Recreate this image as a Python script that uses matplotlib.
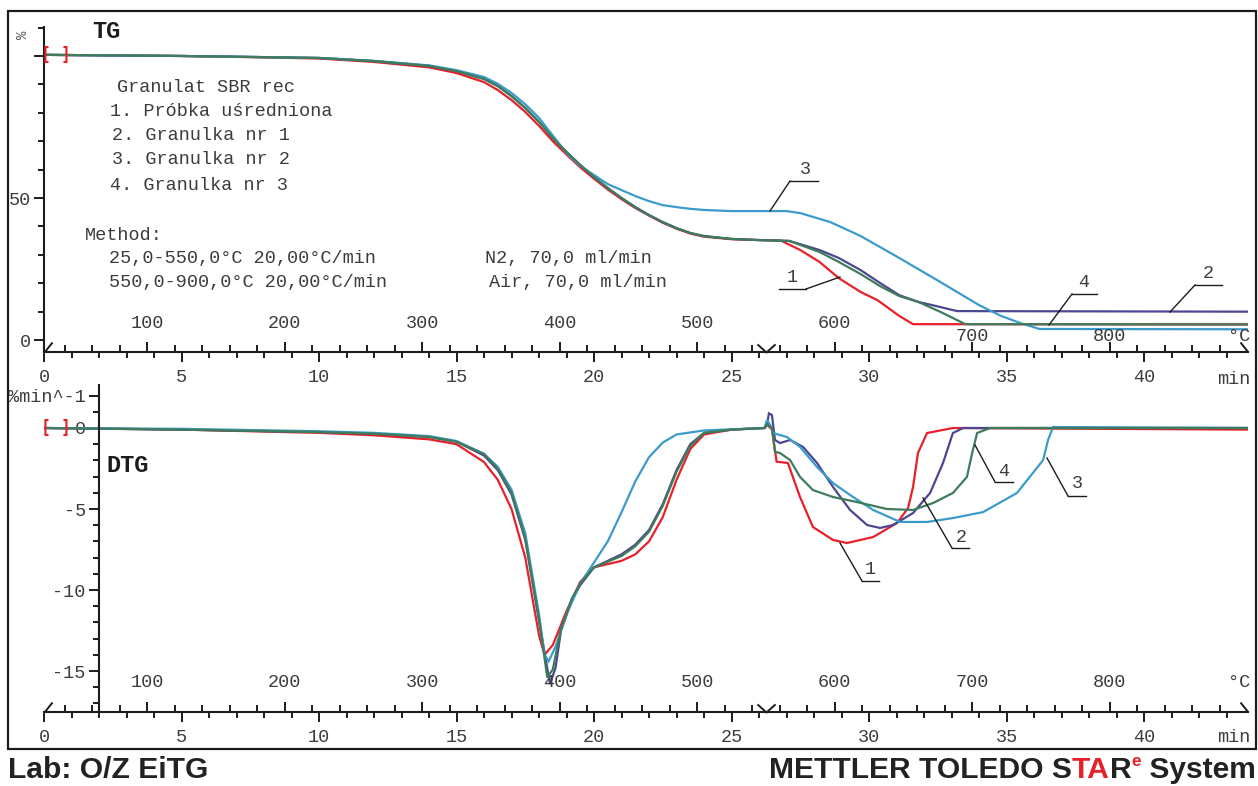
import matplotlib
matplotlib.use('Agg')
import matplotlib.pyplot as plt
import numpy as np
from matplotlib.path import Path
from matplotlib.ticker import FixedLocator, MultipleLocator, FixedFormatter, FuncFormatter
from matplotlib.lines import Line2D
from matplotlib.patches import Rectangle

plt.rcParams['font.family'] = ['Liberation Mono', 'DejaVu Sans Mono']

W, H = 1258, 786

# ---------------- heating programme ----------------
T_START = 25.0      # degC at t = 0
RATE = 20.0         # degC / min
SEG_T = 550         # segment change N2 -> air
T_MAX_MIN = 43.78


def t2T(t):
    return T_START + RATE * np.asarray(t, dtype=float)


def T2t(T):
    return (np.asarray(T, dtype=float) - T_START) / RATE


# ---------------- data ----------------
colors = {'1': '#e62129', '2': '#4b4791', '3': '#3b9bca', '4': '#3e7c5c'}

# TG (%), time in min
tg1_t = [0, 5, 8, 10, 12, 14, 15, 16, 16.5, 17, 17.5, 18, 18.5, 19, 19.5, 20, 20.5, 21, 21.5, 22,
         22.5, 23, 23.5, 24, 25, 26, 26.8, 27.5, 28.2, 28.9, 29.7, 30.3, 31.1, 31.6, 43.75]
tg1_v = [100.4, 100.0, 99.5, 99.1, 97.9, 96.0, 94.0, 90.8, 88.0, 84.5, 80.3, 75.4, 70.0, 65.3, 60.8,
         56.8, 53.0, 49.6, 46.5, 43.8, 41.3, 39.2, 37.5, 36.4, 35.5, 35.2, 35.0, 31.7, 27.5, 21.8,
         16.9, 14.1, 8.5, 5.6, 5.5]

tg2_t = [0, 5, 8, 10, 12, 14, 15, 16, 16.5, 17, 17.5, 18, 18.5, 19, 19.5, 20, 20.5, 21, 21.5, 22,
         22.5, 23, 23.5, 24, 25, 26, 27.1, 28.2, 28.9, 29.7, 30.4, 31.1, 31.8, 32.3, 33.2, 43.75]
tg2_v = [100.4, 100.0, 99.6, 99.3, 98.2, 96.5, 94.7, 91.9, 89.4, 85.9, 81.7, 76.8, 71.1, 66.2, 61.6,
         57.4, 53.5, 50.0, 46.8, 44.0, 41.5, 39.4, 37.7, 36.6, 35.6, 35.2, 34.9, 31.7, 28.9, 24.6,
         20.1, 15.8, 13.4, 12.3, 10.2, 10.0]

tg3_t = [0, 5, 8, 10, 12, 14, 15, 16, 16.5, 17, 17.5, 18, 18.5, 19, 19.5, 20, 20.5, 21, 21.5, 22,
         22.5, 23, 23.5, 24, 25, 27, 27.5, 28.6, 29.7, 31.1, 32.6, 34, 34.8, 35.5, 36.2, 43.75]
tg3_v = [100.4, 100.0, 99.6, 99.3, 98.3, 96.7, 95.0, 92.6, 90.2, 87.0, 83.0, 78.2, 72.0, 65.8, 61.3,
         58.1, 54.9, 52.8, 50.7, 48.9, 47.5, 46.8, 46.2, 45.8, 45.4, 45.4, 44.7, 41.5, 36.6, 28.9,
         20.4, 12.3, 8.5, 6.0, 3.9, 3.8]

tg4_t = [0, 5, 8, 10, 12, 14, 15, 16, 16.5, 17, 17.5, 18, 18.5, 19, 19.5, 20, 20.5, 21, 21.5, 22,
         22.5, 23, 23.5, 24, 25, 26, 27.1, 28.2, 28.9, 29.7, 30.4, 31.1, 31.8, 32.6, 33.5, 43.75]
tg4_v = [100.4, 100.0, 99.6, 99.3, 98.2, 96.5, 94.7, 91.9, 89.4, 85.9, 81.7, 76.8, 71.1, 66.2, 61.6,
         57.4, 53.5, 50.0, 46.8, 44.0, 41.5, 39.4, 37.7, 36.6, 35.6, 35.2, 34.9, 31.0, 27.5, 23.2,
         19.0, 15.5, 13.4, 9.9, 5.6, 5.5]

# DTG (%/min)
dtg1_t = [0, 5, 10, 12, 14, 15, 16, 16.5, 17, 17.5, 18, 18.2, 18.5, 19, 19.5, 20, 21, 21.5, 22, 22.5,
          23, 23.5, 24, 25, 26.2, 26.3, 26.47, 26.64, 27.05, 27.49, 27.96, 28.69, 29.2, 30.15, 31.02,
          31.42, 31.6, 31.78, 32.11, 33.05, 43.75]
dtg1_v = [0, -0.1, -0.3, -0.45, -0.7, -1.0, -2.1, -3.2, -5.0, -8.0, -12.8, -14.0, -13.4, -11.3, -9.5,
          -8.6, -8.2, -7.8, -7.0, -5.5, -3.2, -1.3, -0.4, -0.1, 0, 0.2, -0.1, -2.08, -2.16, -4.26,
          -6.11, -6.91, -7.1, -6.73, -5.86, -4.94, -3.64, -1.54, -0.31, 0, -0.1]

dtg2_t = [0, 5, 10, 12, 14, 15, 16, 16.5, 17, 17.5, 18, 18.4, 18.6, 18.8, 19.2, 19.5, 20, 21, 21.5,
          22, 22.5, 23, 23.5, 24, 25, 26.2, 26.29, 26.36, 26.47, 26.58, 26.76, 27.13, 27.6, 28.11,
          28.69, 29.31, 29.93, 30.4, 30.87, 31.6, 32.22, 32.69, 33.05, 33.42, 43.75]
dtg2_v = [0, -0.1, -0.25, -0.35, -0.55, -0.85, -1.7, -2.6, -4.1, -6.9, -11.9, -15.8, -14.8, -12.5,
          -10.6, -9.7, -8.6, -7.8, -7.2, -6.3, -4.7, -2.6, -1.0, -0.3, -0.1, 0, 0.2, 0.9, 0.8, -0.74,
          -0.93, -0.74, -1.17, -2.16, -3.64, -5.06, -5.99, -6.17, -5.99, -5.25, -4.01, -2.16, -0.31,
          0, 0]

dtg3_t = [0, 5, 10, 12, 14, 15, 16, 16.5, 17, 17.5, 18, 18.2, 18.35, 18.6, 19, 19.5, 20, 20.5, 21,
          21.5, 22, 22.5, 23, 24, 26.2, 26.29, 26.4, 26.51, 27.02, 27.49, 28.11, 28.69, 29.42, 30.15,
          31.13, 32.11, 33.05, 34.15, 35.38, 36.33, 36.51, 36.69, 43.75]
dtg3_v = [0, -0.05, -0.2, -0.3, -0.5, -0.8, -1.6, -2.4, -3.8, -6.5, -11.5, -14.0, -14.4, -13.5, -11.5,
          -9.6, -8.3, -7.0, -5.2, -3.3, -1.8, -0.9, -0.4, -0.15, 0, 0.5, 0.2, -0.31, -0.56, -1.17,
          -2.41, -3.4, -4.26, -5.06, -5.8, -5.8, -5.56, -5.19, -4.01, -1.98, -0.74, 0.06, 0]

dtg4_t = [0, 5, 10, 12, 14, 15, 16, 16.5, 17, 17.5, 18, 18.3, 18.5, 18.8, 19.2, 19.5, 20, 21, 21.5,
          22, 22.5, 23, 23.5, 24, 25, 26.2, 26.29, 26.47, 26.58, 26.76, 27.13, 27.49, 27.96, 28.69,
          29.56, 30.65, 31.6, 32.33, 33.05, 33.56, 33.75, 33.93, 34.4, 43.75]
dtg4_v = [0, -0.1, -0.25, -0.35, -0.55, -0.85, -1.6, -2.5, -4.0, -6.8, -11.8, -15.4, -14.9, -12.4,
          -10.5, -9.6, -8.6, -7.9, -7.3, -6.4, -4.8, -2.7, -1.1, -0.3, -0.1, 0, 0.25, 0, -1.48, -1.54,
          -1.98, -3.02, -3.83, -4.26, -4.57, -5.0, -5.06, -4.63, -4.01, -3.02, -1.54, -0.31, 0, 0]

tg_series = {'1': (tg1_t, tg1_v), '2': (tg2_t, tg2_v), '3': (tg3_t, tg3_v), '4': (tg4_t, tg4_v)}
dtg_series = {'1': (dtg1_t, dtg1_v), '2': (dtg2_t, dtg2_v), '3': (dtg3_t, dtg3_v), '4': (dtg4_t, dtg4_v)}
draw_order = ['1', '2', '3', '4']

legend_title = 'Granulat SBR rec'
legend_lines = ['1. Próbka uśredniona', '2. Granulka nr 1', '3. Granulka nr 2', '4. Granulka nr 3']
method_lines = ['Method:', '25,0-550,0°C 20,00°C/min', '550,0-900,0°C 20,00°C/min']
gas_lines = ['N2, 70,0 ml/min', 'Air, 70,0 ml/min']

time_major = list(range(0, 45, 5))
temp_major = list(range(100, 900, 100))
temp_minor = [T for T in range(40, 900, 20) if T % 100]

# ---------------- figure ----------------
fig = plt.figure(figsize=(W / 100, H / 100), dpi=100)
fig.patch.set_facecolor('white')

TXT = '#3c3c3c'
AX = '#1c1c1c'
FS = 13.3


def fx(x):
    return x / W


def fy(y):
    return 1 - y / H


def rect(x0, y0, x1, y1):
    return [x0 / W, 1 - y1 / H, (x1 - x0) / W, (y1 - y0) / H]


ax1 = fig.add_axes(rect(44, 27, 1248, 352))
ax1.set_xlim(0, T_MAX_MIN)
ax1.set_ylim(-4.2, 110.2)
ax2 = fig.add_axes(rect(44, 385, 1248, 712))
ax2.set_xlim(0, T_MAX_MIN)
ax2.set_ylim(-17.53, 2.654)

start_mark = Path([(0, 0), (0.8, 1)], [Path.MOVETO, Path.LINETO])
end_mark = Path([(-0.8, 1), (0, 0)], [Path.MOVETO, Path.LINETO])
v_mark = Path([(-1, 0.9), (0, 0), (1, 0.9)], [Path.MOVETO, Path.LINETO, Path.LINETO])

for ax in (ax1, ax2):
    ax.patch.set_visible(False)
    for s in ('top', 'right'):
        ax.spines[s].set_visible(False)
    for s in ('left', 'bottom'):
        ax.spines[s].set_linewidth(1.5)
        ax.spines[s].set_color(AX)
    ax.xaxis.set_major_locator(FixedLocator(time_major))
    ax.xaxis.set_major_formatter(FuncFormatter(lambda v, p: f'{v:g}'))
    ax.xaxis.set_minor_locator(MultipleLocator(1))
    ax.tick_params(axis='x', which='major', direction='out', length=7.5, width=1.4, color=AX,
                   labelsize=FS, labelcolor=TXT, pad=5)
    ax.tick_params(axis='x', which='minor', direction='out', length=4.3, width=1.4, color=AX)
    ax.tick_params(axis='y', which='major', direction='out', length=7.5, width=1.4, color=AX,
                   labelsize=FS, labelcolor=TXT, pad=2)
    ax.tick_params(axis='y', which='minor', direction='out', length=4.5, width=1.4, color=AX)

    sec = ax.secondary_xaxis(0, functions=(t2T, T2t))
    for s in sec.spines.values():
        s.set_visible(False)
    sec.xaxis.set_major_locator(FixedLocator(temp_major))
    sec.xaxis.set_minor_locator(FixedLocator(temp_minor))
    sec.tick_params(which='both', direction='in', labelbottom=False, width=1.4, color=AX)
    sec.tick_params(which='major', length=7.2)
    sec.tick_params(which='minor', length=5.0)

    y0 = ax.get_ylim()[0]
    ax.plot([0], [y0], marker=start_mark, ms=14.4, mew=1.4, mec=AX, mfc='none', ls='none', clip_on=False)
    ax.plot([T_MAX_MIN], [y0], marker=end_mark, ms=14.4, mew=1.4, mec=AX, mfc='none', ls='none', clip_on=False)
    ax.plot([T2t(SEG_T)], [y0], marker=v_mark, ms=13, mew=1.4, mec=AX, mfc='none', ls='none', clip_on=False)

# y axes
ax1.yaxis.set_major_locator(FixedLocator([0, 50, 100]))
ax1.yaxis.set_major_formatter(FixedFormatter(['0', '50', '']))
ax1.yaxis.set_minor_locator(FixedLocator([10, 20, 30, 40, 60, 70, 80, 90, 110]))

ax2.spines['left'].set_position(('data', 2))
ax2.yaxis.set_major_locator(FixedLocator([-15, -10, -5, 0, 2]))
ax2.yaxis.set_major_formatter(FixedFormatter(['-15', '-10', '-5', '0', '%min^-1']))
ax2.yaxis.set_minor_locator(FixedLocator([v for v in range(-17, 2) if v not in (-15, -10, -5, 0)]))

# curves
for key in draw_order:
    t, v = tg_series[key]
    ax1.plot(t, v, color=colors[key], lw=1.6, solid_joinstyle='miter')
    t, v = dtg_series[key]
    ax2.plot(t, v, color=colors[key], lw=1.6, solid_joinstyle='miter')

# red start brackets
for ax, yv in ((ax1, 100.4), (ax2, 0.0)):
    ax.text(0.07, yv, '[', color=colors['1'], fontsize=12, fontweight='bold', ha='center', va='center',
            family='DejaVu Sans Mono')
    ax.text(0.8, yv, ']', color=colors['1'], fontsize=12, fontweight='bold', ha='center', va='center',
            family='DejaVu Sans Mono')

# temperature labels
for T in temp_major:
    ytop = 6.0 if T < 700 else 1.4
    ax1.text(T2t(T), ytop, str(T), ha='center', va='center', fontsize=FS, color=TXT)
    ax2.text(T2t(T), -15.7, str(T), ha='center', va='center', fontsize=FS, color=TXT)
ax1.text(T_MAX_MIN + 0.08, 1.4, '°C', ha='right', va='center', fontsize=FS, color=TXT)
ax2.text(T_MAX_MIN + 0.08, -15.7, '°C', ha='right', va='center', fontsize=FS, color=TXT)

fig.text(fx(1250), fy(379), 'min', ha='right', va='center', fontsize=FS, color=TXT)
fig.text(fx(1250), fy(738), 'min', ha='right', va='center', fontsize=FS, color=TXT)
fig.text(fx(23), fy(35), '%', rotation=90, ha='center', va='center', fontsize=10, color='#555555')

# titles
fig.text(fx(92), fy(32), 'TG', ha='left', va='center', fontsize=17, fontweight='bold', color=AX)
fig.text(fx(107), fy(466), 'DTG', ha='left', va='center', fontsize=17, fontweight='bold', color=AX)

# legend-like notes
fig.text(fx(117), fy(87), legend_title, ha='left', va='center', fontsize=FS, color=TXT)
for (xx, yy), s in zip([(110, 111), (112, 135), (112, 160), (110, 186)], legend_lines):
    fig.text(fx(xx), fy(yy), s, ha='left', va='center', fontsize=FS, color=TXT)
fig.text(fx(85), fy(236), method_lines[0], ha='left', va='center', fontsize=FS, color=TXT)
fig.text(fx(109), fy(259), method_lines[1], ha='left', va='center', fontsize=FS, color=TXT)
fig.text(fx(109), fy(283), method_lines[2], ha='left', va='center', fontsize=FS, color=TXT)
fig.text(fx(485), fy(259), gas_lines[0], ha='left', va='center', fontsize=FS, color=TXT)
fig.text(fx(489), fy(283), gas_lines[1], ha='left', va='center', fontsize=FS, color=TXT)

# curve number leaders: (label, text xy, underline x0, x1, y, leader end, side)
leaders = [
    ('3', (805, 169), 790, 818, 181, (770, 211), 'left'),
    ('1', (792, 278), 779, 806, 289, (840, 277), 'right'),
    ('4', (1084, 282), 1072, 1097, 294, (1049, 325), 'left'),
    ('2', (1208, 273), 1195, 1222, 285, (1170, 312), 'left'),
    ('1', (870, 569), 862, 879, 581, (840, 543), 'left'),
    ('2', (961, 537), 952, 969, 548, (923, 498), 'left'),
    ('4', (1004, 471), 995, 1013, 482, (975, 445), 'left'),
    ('3', (1077, 484), 1068, 1086, 496, (1047, 458), 'left'),
]
for lab, (tx, ty), ux0, ux1, uy, (lx, ly), side in leaders:
    fig.text(fx(tx), fy(ty), lab, ha='center', va='center', fontsize=FS, color=TXT)
    fig.add_artist(Line2D([fx(ux0), fx(ux1)], [fy(uy), fy(uy)], transform=fig.transFigure,
                          lw=1.0, color=AX))
    sx = ux0 if side == 'left' else ux1
    fig.add_artist(Line2D([fx(sx), fx(lx)], [fy(uy), fy(ly)], transform=fig.transFigure,
                          lw=1.0, color=AX))

# frame
fig.add_artist(Rectangle((fx(8), fy(749)), (1256 - 8) / W, (749 - 11) / H, transform=fig.transFigure,
                         fill=False, lw=1.6, ec=AX))

# footer
fig.text(fx(8), fy(770), 'Lab: O/Z EiTG', ha='left', va='center', fontsize=21.6,
         fontweight='bold', family='Liberation Sans', color='#222222')

renderer = fig.canvas.get_renderer()
pieces = [('METTLER TOLEDO S', '#222222', 21.6, 0), ('TA', '#e62129', 21.6, 0),
          ('R', '#222222', 21.6, 0), ('e', '#e62129', 12.5, 9), (' System', '#222222', 21.6, 0)]
arts = []
for s, c, fsz, dy in pieces:
    a = fig.text(0, fy(770 - dy), s, ha='left', va='center', fontsize=fsz, fontweight='bold',
                 family='Liberation Sans', color=c)
    arts.append(a)
widths = [a.get_window_extent(renderer).width for a in arts]
x = 1256 - sum(widths)
for a, w in zip(arts, widths):
    a.set_x(fx(x))
    x += w

fig.savefig('out.png', dpi=100)
